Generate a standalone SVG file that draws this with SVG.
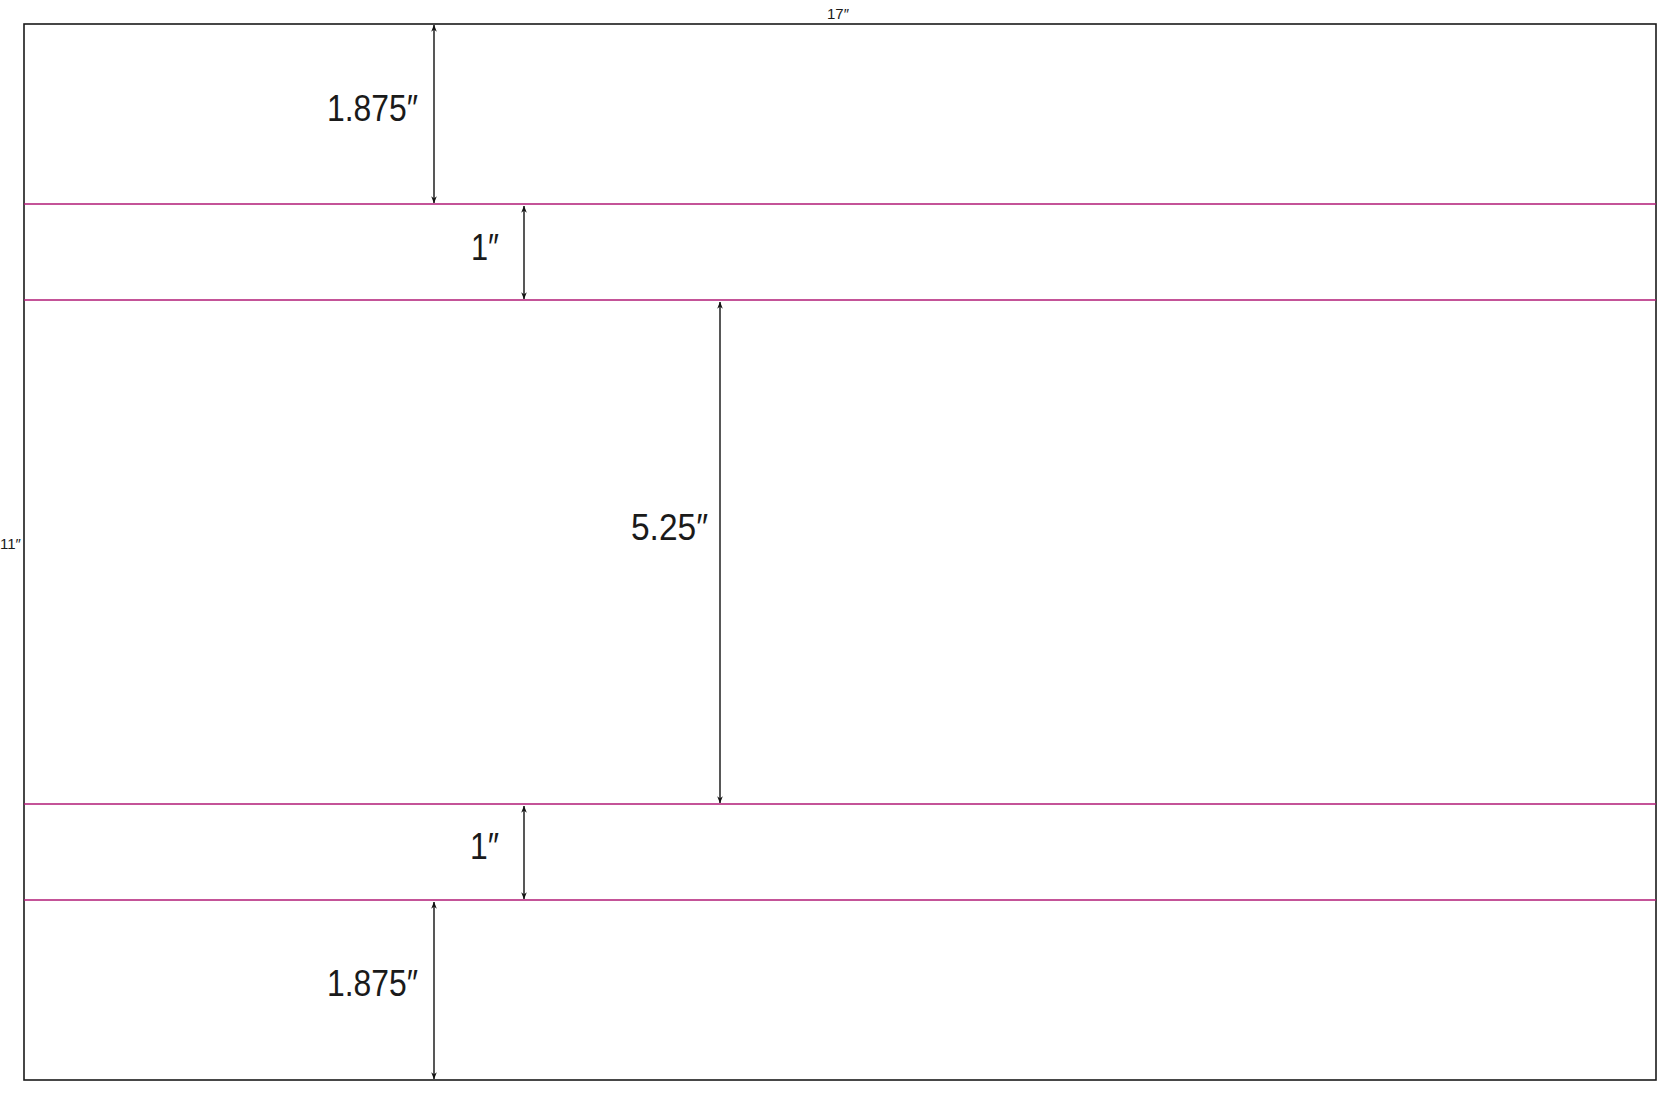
<svg xmlns="http://www.w3.org/2000/svg" width="1680" height="1104" viewBox="0 0 1680 1104">
<style>
.frame{fill:none;stroke:#1a1a1a;stroke-width:1.6}
.cut{stroke:#b01a76;stroke-width:1.6}
.dim{stroke:#111;stroke-width:1.4;marker-start:url(#ah);marker-end:url(#ah)}
.big{font-family:"Liberation Sans","DejaVu Sans",sans-serif;font-size:36px;fill:#1a1a1a;text-anchor:end}
.small{font-family:"Liberation Sans","DejaVu Sans",sans-serif;font-size:15px;fill:#1a1a1a}
</style>
<defs>
<marker id="ah" viewBox="0 0 10 10" refX="9.5" refY="5" markerWidth="7" markerHeight="7" markerUnits="userSpaceOnUse" orient="auto-start-reverse">
<path d="M0,1 L10,5 L0,9 L3,5 Z" fill="#111"/>
</marker>
</defs>
<rect fill="#fff" x="0" y="0" width="1680" height="1104"/>
<g id="sheet">
<rect class="frame" x="24" y="24" width="1632" height="1056"/>
<text class="small" x="838" y="19" text-anchor="middle">17″</text>
<text class="small" x="0" y="549">11″</text>
</g>
<g id="cutlines">
<line class="cut" x1="24" y1="204" x2="1656" y2="204"/>
<line class="cut" x1="24" y1="300" x2="1656" y2="300"/>
<line class="cut" x1="24" y1="804" x2="1656" y2="804"/>
<line class="cut" x1="24" y1="900" x2="1656" y2="900"/>
</g>
<g id="connectors">
<line class="dim" x1="434" y1="25" x2="434" y2="203"/>
<line class="dim" x1="524" y1="206" x2="524" y2="299"/>
<line class="dim" x1="720" y1="302" x2="720" y2="803"/>
<line class="dim" x1="524" y1="806" x2="524" y2="899"/>
<line class="dim" x1="434" y1="902" x2="434" y2="1079"/>
</g>
<g id="labels">
<text class="big" x="418" y="121" textLength="91" lengthAdjust="spacingAndGlyphs">1.875″</text>
<text class="big" x="499" y="260" textLength="28" lengthAdjust="spacingAndGlyphs">1″</text>
<text class="big" x="708" y="540" textLength="77" lengthAdjust="spacingAndGlyphs">5.25″</text>
<text class="big" x="499" y="859" textLength="29" lengthAdjust="spacingAndGlyphs">1″</text>
<text class="big" x="418" y="996" textLength="91" lengthAdjust="spacingAndGlyphs">1.875″</text>
</g>
</svg>
